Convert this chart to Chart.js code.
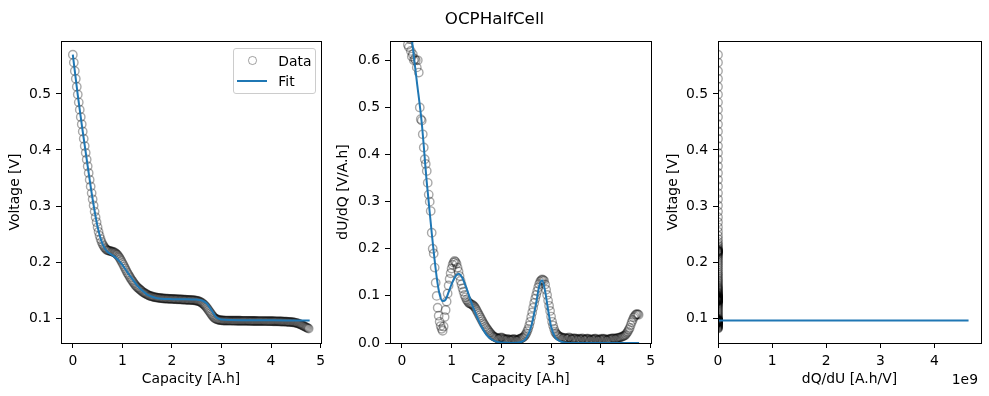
<!DOCTYPE html>
<html>
<head>
<meta charset="utf-8">
<title>OCPHalfCell</title>
<script src="https://cdn.jsdelivr.net/npm/chart.js@4.4.1/dist/chart.umd.min.js"></script>
<style>
  html, body { margin: 0; padding: 0; background: #fff; }
  #fig { position: relative; width: 989px; height: 396px; overflow: hidden; font-family: 'DejaVu Sans', sans-serif; color: #000; }
  #fig canvas { position: absolute; top: 0; }
  .txt { position: absolute; white-space: nowrap; font-size: 13.9px; line-height: 16px; }
  #title { position: absolute; left: 0; width: 989px; top: 8px; text-align: center; font-size: 16.7px; line-height: 20px; }
  #legend { position: absolute; left: 233px; top: 48px; width: 81px; height: 44px; border: 1px solid #cccccc; border-radius: 3px; background: rgba(255,255,255,0.8); }
  #legMarker { position: absolute; left: 248px; top: 56.4px; width: 8.6px; height: 8.6px; box-sizing: border-box; border: 1.4px solid rgba(0,0,0,0.36); border-radius: 50%; }
  #legLine { position: absolute; left: 236.7px; top: 80px; width: 30px; height: 2px; background: #1f77b4; }
</style>
</head>
<body>
<div id="fig">
  <canvas id="c1" width="330" height="396" style="left:0px"></canvas>
  <canvas id="c2" width="330" height="396" style="left:330px"></canvas>
  <canvas id="c3" width="329" height="396" style="left:660px"></canvas>
  <div id="title">OCPHalfCell</div>
  <div id="legend"></div>
  <div id="legMarker"></div>
  <div id="legLine"></div>
  <div class="txt" style="left:278.3px; top:52.7px">Data</div>
  <div class="txt" style="left:278.3px; top:73px">Fit</div>
  <div class="txt" style="right:11px; top:371px">1e9</div>
</div>
<script>
// measured data (capacity in A.h)
const capData = [
  0, 0.02, 0.04, 0.06, 0.08, 0.10, 0.12, 0.14, 0.16, 0.18,
  0.20, 0.22, 0.24, 0.26, 0.28, 0.30, 0.32, 0.34, 0.36, 0.38,
  0.40, 0.42, 0.44, 0.46, 0.48, 0.50, 0.52, 0.54, 0.56, 0.58,
  0.60, 0.62, 0.64, 0.66, 0.68, 0.70,
  0.72, 0.74, 0.76, 0.78, 0.80, 0.82, 0.84, 0.86, 0.88, 0.90,
  0.92, 0.94, 0.96, 0.98, 1.00, 1.02, 1.04, 1.06, 1.08, 1.10,
  1.12, 1.14, 1.16, 1.18, 1.20, 1.22, 1.24, 1.26, 1.28, 1.30,
  1.32, 1.34, 1.36, 1.38, 1.40, 1.42, 1.44, 1.46, 1.48, 1.50,
  1.52, 1.54, 1.56, 1.58, 1.60, 1.62, 1.64, 1.66, 1.68, 1.70,
  1.72, 1.74, 1.76, 1.78, 1.80, 1.82, 1.84, 1.86, 1.88, 1.90,
  1.92, 1.94, 1.96, 1.98, 2.00, 2.02, 2.04, 2.06, 2.08, 2.10,
  2.12, 2.14, 2.16, 2.18, 2.20, 2.22, 2.24, 2.26, 2.28, 2.30,
  2.32, 2.34, 2.36, 2.38, 2.40, 2.42, 2.44, 2.46, 2.48, 2.50,
  2.52, 2.54, 2.56, 2.58, 2.60, 2.62, 2.64, 2.66, 2.68, 2.70,
  2.72, 2.74, 2.76, 2.78, 2.80, 2.82, 2.84, 2.86, 2.88, 2.90,
  2.92, 2.94, 2.96, 2.98, 3.00, 3.02, 3.04, 3.06, 3.08, 3.10,
  3.12, 3.14, 3.16, 3.18, 3.20, 3.22, 3.24, 3.26, 3.28, 3.30,
  3.32, 3.34, 3.36, 3.38, 3.40, 3.42, 3.44, 3.46, 3.48, 3.50,
  3.52, 3.54, 3.56, 3.58, 3.60, 3.62, 3.64, 3.66, 3.68, 3.70,
  3.72, 3.74, 3.76, 3.78, 3.80, 3.82, 3.84, 3.86, 3.88, 3.90,
  3.92, 3.94, 3.96, 3.98, 4.00, 4.02, 4.04, 4.06, 4.08, 4.10,
  4.12, 4.14, 4.16, 4.18, 4.20, 4.22, 4.24, 4.26, 4.28, 4.30,
  4.32, 4.34, 4.36, 4.38, 4.40, 4.42, 4.44, 4.46, 4.48, 4.50,
  4.52, 4.54, 4.56, 4.58, 4.60, 4.62, 4.64, 4.66, 4.68, 4.70,
  4.72, 4.74, 4.76
];
const voltData = [
  0.570, 0.556, 0.541, 0.527, 0.513, 0.499, 0.485, 0.472, 0.459, 0.446,
  0.433, 0.420, 0.407, 0.395, 0.383, 0.371, 0.359, 0.347, 0.335, 0.323,
  0.312, 0.301, 0.290, 0.280, 0.271, 0.262, 0.254, 0.247, 0.241, 0.236,
  0.232, 0.229, 0.226, 0.224, 0.222, 0.221,
  0.2205, 0.220, 0.2195, 0.219, 0.2185, 0.218, 0.217, 0.216, 0.2145, 0.213,
  0.2105, 0.208, 0.205, 0.202, 0.1985, 0.195, 0.1915, 0.188, 0.1845, 0.181,
  0.178, 0.175, 0.172, 0.169, 0.1665, 0.164, 0.1615, 0.159, 0.157, 0.155,
  0.1535, 0.152, 0.1505, 0.149, 0.1475, 0.146, 0.145, 0.144, 0.143, 0.142,
  0.141, 0.140, 0.1395, 0.139, 0.1385, 0.138, 0.1375, 0.137, 0.1368, 0.1365,
  0.1362, 0.136, 0.1358, 0.1355, 0.1352, 0.135, 0.1349, 0.1348, 0.1347, 0.1346,
  0.1345, 0.1344, 0.1343, 0.1342, 0.1341, 0.134, 0.1339, 0.1338, 0.1337, 0.1336,
  0.1335, 0.1334, 0.1333, 0.1332, 0.1331, 0.133, 0.1329, 0.1328, 0.1327, 0.1326,
  0.1325, 0.1324, 0.1323, 0.1322, 0.1321, 0.132, 0.1318, 0.1316, 0.1313, 0.131,
  0.1305, 0.130, 0.1293, 0.1285, 0.1273, 0.126, 0.1245, 0.123, 0.121, 0.119,
  0.1165, 0.114, 0.1115, 0.109, 0.1065, 0.104, 0.102, 0.100, 0.099, 0.098,
  0.0974, 0.0968, 0.0965, 0.0962, 0.096, 0.0958, 0.0957, 0.0956, 0.0956, 0.0955,
  0.0955, 0.0955, 0.0954, 0.0954, 0.0954, 0.0954, 0.0953, 0.0953, 0.0953, 0.0953,
  0.0952, 0.0952, 0.0952, 0.0952, 0.0951, 0.0951, 0.0951, 0.0951, 0.095, 0.095,
  0.095, 0.095, 0.0949, 0.0949, 0.0949, 0.0949, 0.0948, 0.0948, 0.0948, 0.0948,
  0.0947, 0.0947, 0.0947, 0.0947, 0.0946, 0.0946, 0.0946, 0.0946, 0.0945, 0.0945,
  0.0945, 0.0945, 0.0944, 0.0944, 0.0944, 0.0944, 0.0943, 0.0943, 0.0942, 0.0942,
  0.0941, 0.0941, 0.094, 0.094, 0.0939, 0.0939, 0.0938, 0.0937, 0.0936, 0.0935,
  0.0934, 0.0933, 0.0931, 0.093, 0.0928, 0.0927, 0.0925, 0.0922, 0.0919, 0.0915,
  0.091, 0.0905, 0.0899, 0.0892, 0.0884, 0.0876, 0.0867, 0.0858, 0.0849, 0.084,
  0.0831, 0.0822, 0.0812
];
const dudqData = [
  0.75, 0.72, 0.70, 0.69, 0.66, 0.65, 0.633, 0.628, 0.645, 0.62,
  0.608, 0.613, 0.60, 0.603, 0.60, 0.585, 0.60, 0.574, 0.50, 0.475,
  0.472, 0.443, 0.415, 0.39, 0.38, 0.365, 0.34, 0.315, 0.30, 0.28,
  0.234, 0.20, 0.19, 0.16, 0.128, 0.10,
  0.075, 0.058, 0.045, 0.036, 0.03, 0.026, 0.035, 0.055, 0.07, 0.088,
  0.105, 0.122, 0.136, 0.148, 0.158, 0.166, 0.171, 0.174, 0.172, 0.168,
  0.16, 0.152, 0.142, 0.132, 0.124, 0.116, 0.109, 0.102, 0.097, 0.092,
  0.089, 0.086, 0.084, 0.083, 0.082, 0.081, 0.079, 0.077, 0.074, 0.07,
  0.066, 0.062, 0.058, 0.054, 0.05, 0.046, 0.042, 0.039, 0.035, 0.032,
  0.029, 0.026, 0.023, 0.021, 0.018, 0.016, 0.014, 0.013, 0.012, 0.011,
  0.01, 0.009, 0.01, 0.011, 0.012, 0.011, 0.009, 0.008, 0.008, 0.007,
  0.008, 0.008, 0.007, 0.006, 0.007, 0.007, 0.008, 0.008, 0.007, 0.006,
  0.006, 0.007, 0.008, 0.009, 0.01, 0.011, 0.012, 0.014, 0.017, 0.02,
  0.025, 0.03, 0.037, 0.045, 0.055, 0.065, 0.075, 0.085, 0.094, 0.102,
  0.11, 0.118, 0.125, 0.13, 0.133, 0.135, 0.134, 0.132, 0.124, 0.113,
  0.102, 0.09, 0.079, 0.068, 0.056, 0.045, 0.037, 0.03, 0.024, 0.02,
  0.018, 0.016, 0.014, 0.013, 0.012, 0.012, 0.01, 0.011, 0.011, 0.01,
  0.009, 0.01, 0.012, 0.011, 0.008, 0.008, 0.01, 0.009, 0.01, 0.009,
  0.008, 0.007, 0.009, 0.008, 0.008, 0.01, 0.009, 0.007, 0.007, 0.008,
  0.009, 0.009, 0.008, 0.006, 0.007, 0.008, 0.007, 0.008, 0.009, 0.009,
  0.007, 0.006, 0.007, 0.008, 0.007, 0.009, 0.008, 0.009, 0.008, 0.007,
  0.006, 0.007, 0.008, 0.008, 0.009, 0.009, 0.01, 0.01, 0.009, 0.009,
  0.01, 0.011, 0.011, 0.012, 0.012, 0.013, 0.014, 0.015, 0.016, 0.018,
  0.021, 0.024, 0.028, 0.032, 0.038, 0.044, 0.049, 0.054, 0.057, 0.06,
  0.061, 0.061, 0.06
];

// fitted model
const fitCap = [0, 0.1, 0.2, 0.3, 0.4, 0.5, 0.6, 0.7, 0.8, 0.9, 1.0, 1.1, 1.2, 1.3, 1.4, 1.5, 1.6,
  1.7, 1.8, 1.9, 2.0, 2.2, 2.4, 2.5, 2.6, 2.7, 2.8, 2.9, 3.0, 3.2, 3.6, 4.0, 4.4, 4.78];
const fitVolt = [0.570, 0.498, 0.433, 0.371, 0.312, 0.263, 0.232, 0.218, 0.212, 0.205, 0.195,
  0.182, 0.170, 0.158, 0.149, 0.142, 0.138, 0.1355, 0.1345, 0.134, 0.1338, 0.1335, 0.1333,
  0.133, 0.1315, 0.1265, 0.114, 0.101, 0.0975, 0.0965, 0.096, 0.096, 0.0958, 0.0955];
const fitCap2 = [0.1, 0.2, 0.3, 0.4, 0.5, 0.6, 0.7, 0.76, 0.82, 0.88, 0.94, 1.0, 1.08, 1.14, 1.2,
  1.3, 1.4, 1.5, 1.6, 1.7, 1.8, 1.9, 2.0, 2.2, 2.4, 2.5, 2.6, 2.7, 2.76, 2.82, 2.88, 2.94, 3.0,
  3.08, 3.2, 3.4, 4.0, 4.77];
const fitDudq = [0.74, 0.645, 0.556, 0.467, 0.342, 0.234, 0.14, 0.103, 0.089, 0.092, 0.108, 0.125,
  0.142, 0.147, 0.141, 0.116, 0.085, 0.058, 0.035, 0.018, 0.008, 0.003, 0.001, 0.0, 0.002, 0.01,
  0.035, 0.085, 0.12, 0.133, 0.11, 0.07, 0.035, 0.012, 0.003, 0.0, 0.0, 0.0];
const fitVolt3 = [0.570, 0.433, 0.312, 0.232, 0.212, 0.195, 0.170, 0.142, 0.1345, 0.1338, 0.1333,
  0.1315, 0.114, 0.0975, 0.0965, 0.0960, 0.0958, 0.0957, 0.0956, 0.0955];
const fitDqdu3 = [1.4, 1.6, 2.1, 4.3, 11, 8, 7, 17, 125, 1000, 500, 30, 8, 30, 300, 1e5, 3e7,
  6e8, 2.1e9, 4.63e9];

// tick positions
const capTicks = [0, 1, 2, 3, 4, 5];
const voltTicks = [0.1, 0.2, 0.3, 0.4, 0.5];
const dudqTicks = [0, 0.1, 0.2, 0.3, 0.4, 0.5, 0.6];
const dqduTicks = [0, 1e9, 2e9, 3e9, 4e9];

const dqduData = dudqData.map(v => 1 / v);

Chart.defaults.font.family = "'DejaVu Sans', sans-serif";
Chart.defaults.font.size = 13.9;
Chart.defaults.color = '#000';

// black frame round the plot area, like matplotlib spines
const boxPlugin = {
    id: 'box',
    afterDraw(chart) {
        const { ctx, chartArea: a } = chart;
        ctx.save();
        ctx.strokeStyle = '#000';
        ctx.lineWidth = 1;
        ctx.strokeRect(Math.round(a.left) + 0.5, Math.round(a.top) + 0.5,
            Math.round(a.right - a.left), Math.round(a.bottom - a.top));
        ctx.restore();
    }
};

function pairs(xs, ys) {
    return xs.map((x, i) => ({ x: x, y: ys[i] }));
}

function axis(min, max, ticks, fmt, title, size, titlePad, horizontal) {
    return {
        type: 'linear',
        min: min,
        max: max,
        afterBuildTicks: s => { s.ticks = ticks.map(v => ({ value: v })); },
        afterFit: s => { if (horizontal) s.height = size; else s.width = size; },
        ticks: { callback: fmt, autoSkip: false, maxRotation: 0, minRotation: 0, padding: 5 },
        grid: { drawOnChartArea: false, drawTicks: true, tickLength: 5, color: '#000', lineWidth: 1 },
        border: { display: false },
        title: {
            display: true,
            text: title,
            padding: horizontal ? { top: 0, bottom: titlePad } : { top: titlePad, bottom: 0 }
        }
    };
}

function makePanel(id, cfg) {
    const ctx = document.getElementById(id).getContext('2d');
    return new Chart(ctx, {
        type: 'scatter',
        data: {
            datasets: [{
                label: 'Fit',
                data: cfg.fit,
                showLine: true,
                borderColor: '#1f77b4',
                borderWidth: 2,
                pointRadius: 0,
                cubicInterpolationMode: cfg.smooth ? 'monotone' : 'default',
                clip: 0,
                order: 0
            }, {
                label: 'Data',
                data: cfg.data,
                showLine: false,
                pointRadius: 4.2,
                pointBorderWidth: 1.4,
                pointBorderColor: 'rgba(0, 0, 0, 0.34)',
                pointBackgroundColor: 'rgba(0, 0, 0, 0)',
                clip: 0,
                order: 1
            }]
        },
        options: {
            responsive: false,
            animation: false,
            devicePixelRatio: 1,
            events: [],
            layout: { padding: { top: 41, right: cfg.padRight, bottom: 0, left: 0 } },
            plugins: { legend: { display: false }, tooltip: { enabled: false } },
            scales: { x: cfg.x, y: cfg.y }
        },
        plugins: [boxPlugin]
    });
}

const oneDec = v => v.toFixed(1);

makePanel('c1', {
    data: pairs(capData, voltData),
    fit: pairs(fitCap, fitVolt),
    smooth: true,
    padRight: 7,
    x: axis(-0.2385, 5.0085, capTicks, v => String(v), 'Capacity [A.h]', 53, 8.7, true),
    y: axis(0.0555, 0.5945, voltTicks, oneDec, 'Voltage [V]', 61, 6.7, false)
});

makePanel('c2', {
    data: pairs(capData, dudqData),
    fit: pairs(fitCap2, fitDudq),
    smooth: true,
    padRight: 8,
    x: axis(-0.2385, 5.0085, capTicks, v => String(v), 'Capacity [A.h]', 53, 8.7, true),
    y: axis(0, 0.641, dudqTicks, oneDec, 'dU/dQ [V/A.h]', 60, 5.2, false)
});

makePanel('c3', {
    data: pairs(dqduData, voltData),
    fit: pairs(fitDqdu3, fitVolt3),
    smooth: false,
    padRight: 8,
    x: axis(0, 4.86e9, dqduTicks, v => String(Math.round(v / 1e9)), 'dQ/dU [A.h/V]', 53, 8.7, true),
    y: axis(0.0555, 0.5945, voltTicks, oneDec, 'Voltage [V]', 58, 5.2, false)
});
</script>
</body>
</html>
